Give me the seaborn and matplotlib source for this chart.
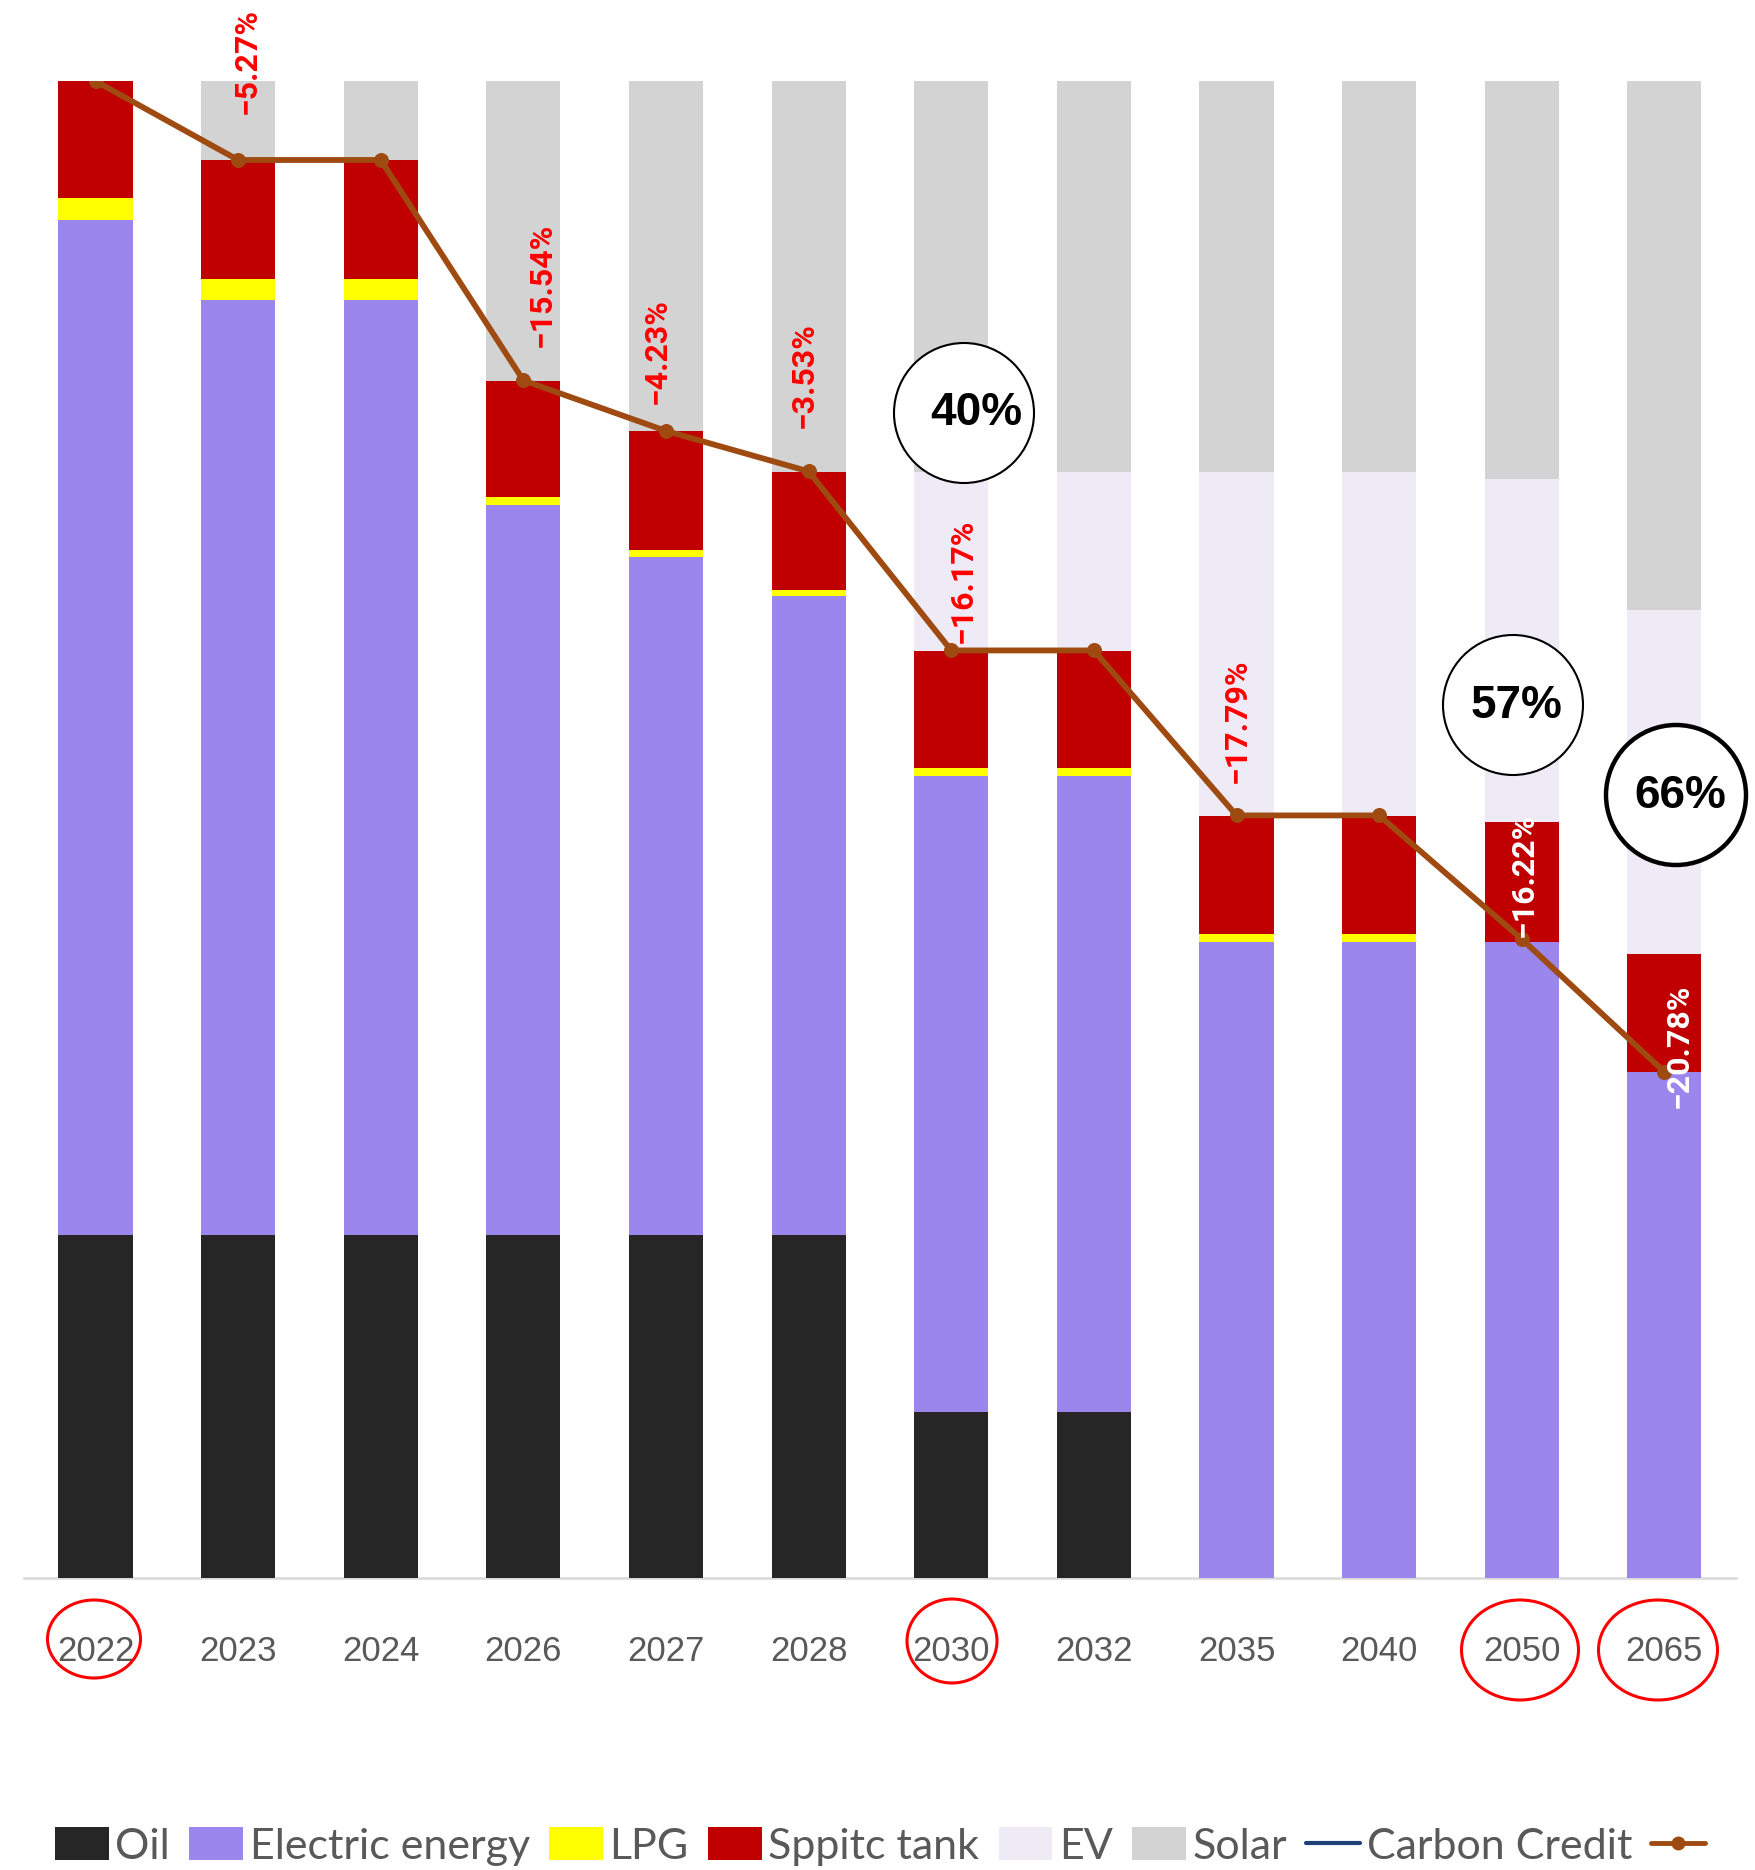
import numpy as np
import pandas as pd
import matplotlib
matplotlib.use("Agg")
import matplotlib.pyplot as plt
import seaborn as sns
from matplotlib.patches import Patch, Circle, Ellipse
from matplotlib.lines import Line2D

# ---- data -------------------------------------------------------------
years = ["2022", "2023", "2024", "2026", "2027", "2028",
         "2030", "2032", "2035", "2040", "2050", "2065"]
oil = [22.9, 22.9, 22.9, 22.9, 22.9, 22.9, 11.1, 11.1, 0.0, 0.0, 0.0, 0.0]
electric = [67.8, 62.5, 62.5, 48.8, 45.3, 42.7, 42.5, 42.5, 42.5, 42.5, 42.5, 33.8]
lpg = [1.5, 1.4, 1.4, 0.5, 0.5, 0.4, 0.5, 0.5, 0.5, 0.5, 0.0, 0.0]
septic = [7.8, 7.9, 7.9, 7.8, 7.9, 7.9, 7.8, 7.8, 7.9, 7.9, 8.0, 7.9]
ev = [0.0, 0.0, 0.0, 0.0, 0.0, 0.0, 12.0, 12.0, 23.0, 23.0, 22.9, 23.0]
solar = [0.0, 5.3, 5.3, 20.0, 23.4, 26.1, 26.1, 26.1, 26.1, 26.1, 26.6, 35.3]
trend = [100.0, 94.73, 94.73, 80.01, 76.63, 73.93, 61.97, 61.97, 50.95, 50.95, 42.69, 33.82]
change_labels = ["", "−5.27%", "", "−15.54%", "−4.23%", "−3.53%",
                 "−16.17%", "", "−17.79%", "", "−16.22%", "−20.78%"]
share_labels = ["40%", "57%", "66%"]
legend_labels = ["Oil", "Electric energy", "LPG", "Sppitc tank", "EV", "Solar", "Carbon Credit", ""]

# ---- styling ----------------------------------------------------------
sns.set_style("white")
plt.rcParams["font.family"] = ["Liberation Sans", "DejaVu Sans"]

layer_names = ["Oil", "Electric energy", "LPG", "Sppitc tank", "EV", "Solar"]
layer_colors = ["#262626", "#9B86EE", "#FFFF00", "#C00000", "#EEEBF6", "#D3D3D3"]
trend_color = "#9E4A10"
credit_color = "#1F3F78"
text_grey = "#595959"

df = pd.DataFrame({"year": years, "Oil": oil, "Electric energy": electric,
                   "LPG": lpg, "Sppitc tank": septic, "EV": ev, "Solar": solar})
cum = df[layer_names].cumsum(axis=1)

W, H = 1756, 1870
fig = plt.figure(figsize=(W / 100, H / 100), dpi=100)
ax_left, ax_right = 24.2, 1735.7
ax_top, ax_bottom = 81.1, 1578.2
ax = fig.add_axes([ax_left / W, (H - ax_bottom) / H,
                   (ax_right - ax_left) / W, (ax_bottom - ax_top) / H])

# stacked bars: draw cumulative tops from the highest layer down
for name, col in zip(reversed(layer_names), reversed(layer_colors)):
    sns.barplot(x=df["year"], y=cum[name], color=col, width=0.52,
                saturation=1, linewidth=0, errorbar=None, ax=ax, zorder=2)

# trend line with markers
pos = np.arange(len(years))
sns.lineplot(x=pos, y=trend, color=trend_color, linewidth=4.2, marker="o",
             markersize=10, markeredgecolor=trend_color, ax=ax, zorder=4,
             legend=False)

# percentage change labels
dx = [0, 9, 0, 18, -9, -5, 11, 0, 0, 0, 2, 14]
dy = [0, 46, 0, 33, 27, 43, 7, 0, 32, 0, 2, -36]
for i, lab in enumerate(change_labels):
    if not lab:
        continue
    col = "white" if i >= 10 else "#FF0000"
    ax.annotate(lab, xy=(pos[i], trend[i]), xytext=(dx[i], dy[i]),
                textcoords="offset pixels", rotation=90, ha="center",
                va="bottom", color=col, fontsize=23, fontweight="bold",
                family=["Roboto", "DejaVu Sans"], zorder=6,
                annotation_clip=False)

ax.set_xlim(-0.5, len(years) - 0.5)
ax.set_ylim(0, 100)
ax.set_xlabel("")
ax.set_ylabel("")
ax.set_yticks([])
for side in ["left", "right", "top"]:
    ax.spines[side].set_visible(False)
ax.spines["bottom"].set_color("#D9D9D9")
ax.spines["bottom"].set_linewidth(1.8)
ax.spines["bottom"].set_zorder(1)
ax.tick_params(axis="x", length=0, pad=41, labelsize=25, labelcolor=text_grey)
for t in ax.get_xticklabels():
    t.set_fontfamily(["Liberation Sans", "DejaVu Sans"])

# circled share callouts (figure pixel positions, y measured from top)
inch = fig.dpi_scale_trans
callouts = [((964, 413), 70, 1.5, (976, 413)),
            ((1513, 705), 70, 1.5, (1517, 706)),
            ((1676, 795), 70, 3.2, (1680, 796))]
for lab, ((cx, cy), r, lw, (tx, ty)) in zip(share_labels, callouts):
    fig.patches.append(Circle((cx / 100, (H - cy) / 100), r / 100,
                              transform=inch, facecolor="white",
                              edgecolor="black", linewidth=lw, zorder=7))
    fig.text(tx / 100, (H - ty) / 100, lab, transform=inch, ha="center",
             va="center", fontsize=33, fontweight="bold", color="black",
             zorder=8)

# red rings around highlighted years
rings = [(94, 1639, 93, 78), (952, 1641, 90, 84),
         (1520, 1650, 117, 100), (1658, 1650, 119, 100)]
for cx, cy, w, h in rings:
    fig.patches.append(Ellipse((cx / 100, (H - cy) / 100), w / 100, h / 100,
                               transform=inch, facecolor="none",
                               edgecolor="#FF0000", linewidth=2.2, zorder=7))

# legend
handles = [Patch(facecolor=c, edgecolor="none") for c in layer_colors]
handles.append(Line2D([], [], color=credit_color, linewidth=3))
handles.append(Line2D([], [], color=trend_color, linewidth=3.5, marker="o",
                      markersize=9))
fig.legend(handles, legend_labels, loc="center", bbox_to_anchor=(0.503, 0.0125),
           ncol=8, frameon=False, labelcolor=text_grey,
           prop={"family": ["Lato", "DejaVu Sans"], "size": 31},
           handlelength=1.25, handleheight=0.8, handletextpad=0.15,
           columnspacing=0.45, borderaxespad=0, borderpad=0)

fig.savefig("out.png", dpi=100)
